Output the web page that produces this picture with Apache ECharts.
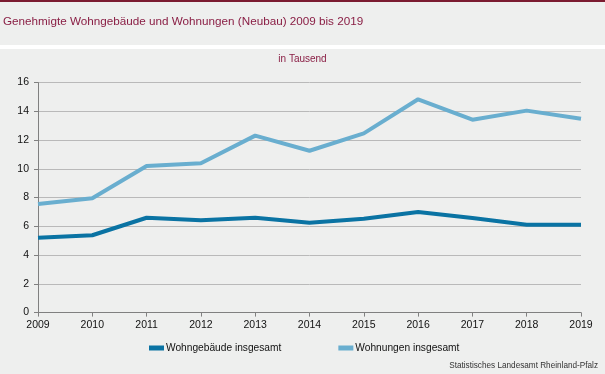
<!DOCTYPE html>
<html><head><meta charset="utf-8">
<script src="https://cdn.jsdelivr.net/npm/echarts@6/dist/echarts.min.js"></script>
<style>html,body{margin:0;padding:0;background:#eeefee;}#c{width:605px;height:374px;}</style>
</head><body><div id="c"></div>
<script>
const years = ['2009','2010','2011','2012','2013','2014','2015','2016','2017','2018','2019'];
const gebaeude = [5.21, 5.38, 6.6, 6.42, 6.6, 6.25, 6.53, 7.0, 6.58, 6.11, 6.11];
const wohnungen = [7.55, 7.95, 10.2, 10.39, 12.31, 11.26, 12.47, 14.84, 13.42, 14.05, 13.49];
const seriesNames = ['Wohngebäude insgesamt', 'Wohnungen insgesamt'];
const titleText = 'Genehmigte Wohngebäude und Wohnungen (Neubau) 2009 bis 2019';
const unitText = 'in Tausend';
const sourceText = 'Statistisches Landesamt Rheinland-Pfalz';

const chart = echarts.init(document.getElementById('c'), null, {renderer:'canvas'});
const font = 'Liberation Sans, Arial, sans-serif';
chart.setOption({
  backgroundColor: '#eeefee',
  animation: false,
  textStyle: {fontFamily: font},
  graphic: [
    {type:'rect', shape:{x:0,y:0,width:605,height:2}, style:{fill:'#7b1b30'}},
    {type:'rect', shape:{x:0,y:45,width:605,height:4}, style:{fill:'#ffffff'}},
    {type:'text', left:3, top:16, style:{text:titleText, font:'11.7px ' + font, fill:'#8a1f45'}},
    {type:'text', left:'center', top:54, style:{text:unitText, font:'10px ' + font, fill:'#8a1f45'}},
    {type:'text', right:7, top:362, style:{text:sourceText, font:'8.2px ' + font, fill:'#333333'}}
  ],
  legend: {
    left: 149, top: 343, padding: 0,
    icon: 'rect', itemWidth: 15, itemHeight: 5, itemGap: 57,
    textStyle: {fontSize: 10.2, color: '#111', fontFamily: font, padding:[0,0,0,-3]},
    data: seriesNames
  },
  grid: {left: 38, right: 24, top: 82.6, bottom: 61.4, containLabel: false},
  xAxis: {
    type: 'category', data: years, boundaryGap: false,
    axisLine: {lineStyle: {color: '#808080', width: 1}},
    axisTick: {show: true, length: 4, lineStyle: {color: '#808080'}},
    axisLabel: {color: '#111', fontSize: 10.5, margin: 7, fontFamily: font, interval: 0}
  },
  yAxis: {
    type: 'value', min: 0, max: 16, interval: 2,
    axisLine: {show: true, lineStyle: {color: '#808080'}},
    axisTick: {show: true, length: 4, lineStyle: {color: '#808080'}},
    axisLabel: {color: '#111', fontSize: 10.5, margin: 9, fontFamily: font},
    splitLine: {lineStyle: {color: '#b9b9b9', width: 1}}
  },
  series: [
    {name: seriesNames[0], type: 'line', data: gebaeude, showSymbol: false, symbol:'none',
     lineStyle: {color: '#0a73a3', width: 4}, itemStyle:{color:'#0a73a3'}},
    {name: seriesNames[1], type: 'line', data: wohnungen, showSymbol: false, symbol:'none',
     lineStyle: {color: '#69aecf', width: 4}, itemStyle:{color:'#69aecf'}}
  ]
});
</script></body></html>
